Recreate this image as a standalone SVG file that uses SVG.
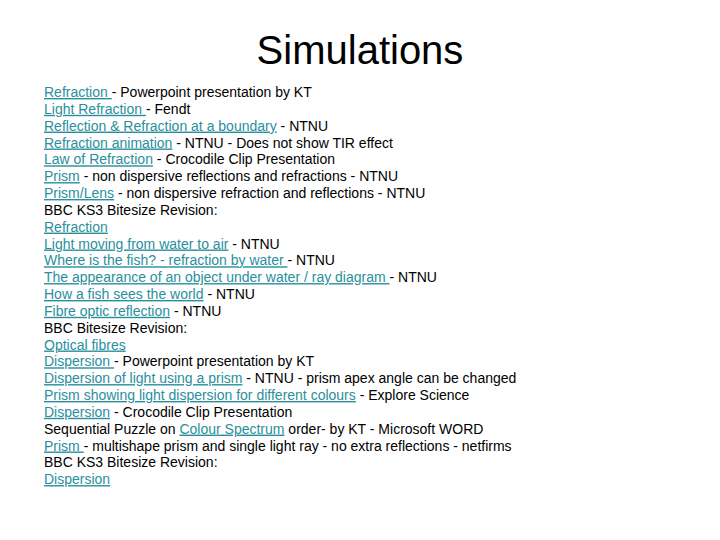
<svg xmlns="http://www.w3.org/2000/svg" width="720" height="540" viewBox="0 0 720 540">
<style>
text{font-family:"Liberation Sans",Arial,sans-serif;fill:#000}
.b{font-size:14px}
.l{fill:#2a8f9c;text-decoration:underline}
</style>
<rect width="720" height="540" fill="#fff"/>
<text x="360" y="64" font-size="40" text-anchor="middle">Simulations</text>
<g class="b" xml:space="preserve">
<text class="b" x="44" y="97"><tspan class="l">Refraction </tspan>- Powerpoint presentation by KT</text>
<text class="b" x="44" y="113.8"><tspan class="l">Light Refraction </tspan>- Fendt</text>
<text class="b" x="44" y="130.6"><tspan class="l">Reflection &amp; Refraction at a boundary</tspan> - NTNU</text>
<text class="b" x="44" y="147.5"><tspan class="l">Refraction animation</tspan> - NTNU - Does not show TIR effect</text>
<text class="b" x="44" y="164.3"><tspan class="l">Law of Refraction</tspan> - Crocodile Clip Presentation</text>
<text class="b" x="44" y="181.1"><tspan class="l">Prism</tspan> - non dispersive reflections and refractions - NTNU</text>
<text class="b" x="44" y="198"><tspan class="l">Prism/Lens</tspan> - non dispersive refraction and reflections - NTNU</text>
<text class="b" x="44" y="214.8">BBC KS3 Bitesize Revision:</text>
<text class="b" x="44" y="231.6"><tspan class="l">Refraction</tspan></text>
<text class="b" x="44" y="248.5"><tspan class="l">Light moving from water to air</tspan> - NTNU</text>
<text class="b" x="44" y="265.3"><tspan class="l">Where is the fish? - refraction by water </tspan>- NTNU</text>
<text class="b" x="44" y="282.1"><tspan class="l">The appearance of an object under water / ray diagram </tspan>- NTNU</text>
<text class="b" x="44" y="299"><tspan class="l">How a fish sees the world</tspan> - NTNU</text>
<text class="b" x="44" y="315.8"><tspan class="l">Fibre optic reflection</tspan> - NTNU</text>
<text class="b" x="44" y="332.6">BBC Bitesize Revision:</text>
<text class="b" x="44" y="349.5"><tspan class="l">Optical fibres</tspan></text>
<text class="b" x="44" y="366.3"><tspan class="l">Dispersion </tspan>- Powerpoint presentation by KT</text>
<text class="b" x="44" y="383.1"><tspan class="l">Dispersion of light using a prism</tspan> - NTNU - prism apex angle can be changed</text>
<text class="b" x="44" y="400"><tspan class="l">Prism showing light dispersion for different colours</tspan> - Explore Science</text>
<text class="b" x="44" y="416.8"><tspan class="l">Dispersion</tspan> - Crocodile Clip Presentation</text>
<text class="b" x="44" y="433.6">Sequential Puzzle on <tspan class="l">Colour Spectrum</tspan> order- by KT  - Microsoft WORD</text>
<text class="b" x="44" y="450.5"><tspan class="l">Prism </tspan>- multishape prism and single light ray - no extra reflections - netfirms</text>
<text class="b" x="44" y="467.3">BBC KS3 Bitesize Revision:</text>
<text class="b" x="44" y="484.1"><tspan class="l">Dispersion</tspan></text>
</g>
</svg>
